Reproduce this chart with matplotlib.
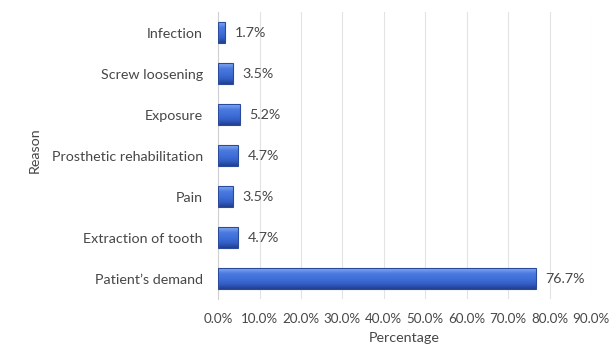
import numpy as np
import matplotlib.pyplot as plt
from matplotlib.colors import LinearSegmentedColormap

plt.rcParams['font.family'] = ['Lato', 'DejaVu Sans']

# 数据
reasons = ['Patient\u2019s demand', 'Extraction of tooth', 'Pain',
           'Prosthetic rehabilitation', 'Exposure', 'Screw loosening', 'Infection']
percent = [76.7, 4.7, 3.5, 4.7, 5.2, 3.5, 1.7]
xticks = [0, 10, 20, 30, 40, 50, 60, 70, 80, 90]

text_color = '#474747'
fs = 10.3
bar_h = 0.5

fig = plt.figure(figsize=(6.13, 3.47), dpi=100)
ax = fig.add_axes([0.356, 0.138, 0.608, 0.827])

# 渐变色柱子
cmap = LinearSegmentedColormap.from_list(
    'bev', ['#223f8f', '#3360c8', '#3f6fd8', '#4b7be0', '#86aaf2'])
grad = np.linspace(0, 1, 64).reshape(-1, 1)
y = np.arange(len(reasons))
for yi, v in zip(y, percent):
    ax.imshow(grad, aspect='auto', cmap=cmap, origin='lower',
              extent=[0, v, yi - bar_h / 2, yi + bar_h / 2], zorder=2)
    ax.add_patch(plt.Rectangle((0, yi - bar_h / 2), v, bar_h, fill=False,
                               edgecolor='#2a4a9c', lw=0.8, zorder=3))
    ax.annotate(f'{v:.1f}%', (v, yi), xytext=(7, 0), textcoords='offset points',
                va='center', ha='left', fontsize=fs, color=text_color)

ax.set_xlim(0, 90)
ax.set_ylim(-0.5, len(reasons) - 0.5)
ax.set_yticks(y)
ax.set_yticklabels(reasons)
ax.set_xticks(xticks)
ax.set_xticklabels([f'{t:.1f}%' for t in xticks])
ax.tick_params(axis='both', length=0, labelsize=fs, labelcolor=text_color)
ax.tick_params(axis='x', labelsize=9.6)
ax.tick_params(axis='y', pad=11)
ax.tick_params(axis='x', pad=10)
ax.grid(axis='x', color='#e3e3e3', lw=0.8, zorder=0)
ax.set_axisbelow(True)
for s in ['top', 'right', 'bottom']:
    ax.spines[s].set_visible(False)
ax.spines['left'].set_color('#d0d0d0')
ax.set_xlabel('Percentage', fontsize=fs, color=text_color, labelpad=5)
ax.set_ylabel('Reason', fontsize=fs, color=text_color)
ax.yaxis.set_label_coords(-0.475, 0.52)

plt.savefig('out.png', dpi=100)
